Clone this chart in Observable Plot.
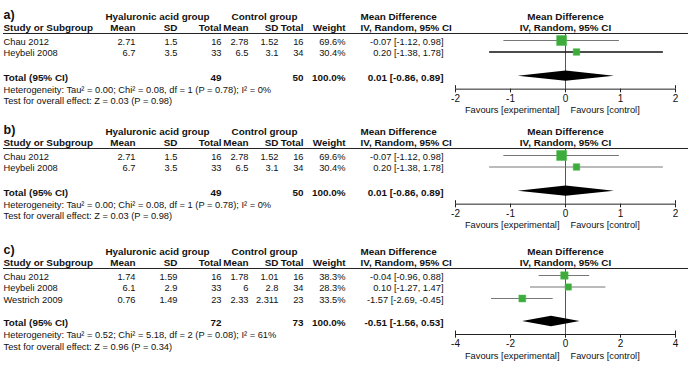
<!DOCTYPE html>
<html><head><meta charset="utf-8">
<script src="https://cdn.jsdelivr.net/npm/d3@7"></script>
<script src="https://cdn.jsdelivr.net/npm/@observablehq/plot@0.6"></script>
<style>
html,body{margin:0;padding:0;background:#fff;}
#chart{width:690px;}
#chart svg{display:block;}
</style></head><body><div id="chart"></div>
<script>
// ---- Panel a ----
const studiesA = ["Chau 2012", "Heybeli 2008"];
const haMeanA = [2.71, 6.7];
const haSdA = [1.5, 3.5];
const haTotalA = [16, 33];
const ctlMeanA = [2.78, 6.5];
const ctlSdA = [1.52, 3.1];
const ctlTotalA = [16, 34];
const weightA = [69.6, 30.4];
const mdA = [-0.07, 0.20];
const loA = [-1.12, -1.38];
const hiA = [0.98, 1.78];
const totalA = [49, 50, 0.01, -0.86, 0.89]; // HA total, control total, MD, lo, hi
const hetA = "Heterogeneity: Tau² = 0.00; Chi² = 0.08, df = 1 (P = 0.78); I² = 0%";
const testA = "Test for overall effect: Z = 0.03 (P = 0.98)";
const ticksA = [-2, -1, 0, 1, 2];

// ---- Panel b ----
const studiesB = ["Chau 2012", "Heybeli 2008"];
const haMeanB = [2.71, 6.7];
const haSdB = [1.5, 3.5];
const haTotalB = [16, 33];
const ctlMeanB = [2.78, 6.5];
const ctlSdB = [1.52, 3.1];
const ctlTotalB = [16, 34];
const weightB = [69.6, 30.4];
const mdB = [-0.07, 0.20];
const loB = [-1.12, -1.38];
const hiB = [0.98, 1.78];
const totalB = [49, 50, 0.01, -0.86, 0.89];
const hetB = "Heterogeneity: Tau² = 0.00; Chi² = 0.08, df = 1 (P = 0.78); I² = 0%";
const testB = "Test for overall effect: Z = 0.03 (P = 0.98)";
const ticksB = [-2, -1, 0, 1, 2];

// ---- Panel c ----
const studiesC = ["Chau 2012", "Heybeli 2008", "Westrich 2009"];
const haMeanC = [1.74, 6.1, 0.76];
const haSdC = [1.59, 2.9, 1.49];
const haTotalC = [16, 33, 23];
const ctlMeanC = [1.78, 6, 2.33];
const ctlSdC = [1.01, 2.8, 2.311];
const ctlTotalC = [16, 34, 23];
const weightC = [38.3, 28.3, 33.5];
const mdC = [-0.04, 0.10, -1.57];
const loC = [-0.96, -1.27, -2.69];
const hiC = [0.88, 1.47, -0.45];
const totalC = [72, 73, -0.51, -1.56, 0.53];
const hetC = "Heterogeneity: Tau² = 0.52; Chi² = 5.18, df = 2 (P = 0.08); I² = 61%";
const testC = "Test for overall effect: Z = 0.96 (P = 0.34)";
const ticksC = [-4, -2, 0, 2, 4];

const GREEN = "#3dac3d";
const FONT = "'Liberation Sans', Arial, Helvetica, sans-serif";
const FS = 9.3;   // regular text
const FSB = 9.9;  // bold text

const fmtMD = (m, l, h) => `${m.toFixed(2)} [${l.toFixed(2)}, ${h.toFixed(2)}]`;

function panel(cfg) {
  const n = cfg.studies.length;
  const rows = cfg.studies.map((s, i) => ({
    i, study: s,
    haMean: String(cfg.haMean[i]), haSd: String(cfg.haSd[i]), haTotal: String(cfg.haTotal[i]),
    ctlMean: String(cfg.ctlMean[i]), ctlSd: String(cfg.ctlSd[i]), ctlTotal: String(cfg.ctlTotal[i]),
    weight: cfg.weight[i], weightTxt: cfg.weight[i].toFixed(1) + "%",
    md: cfg.md[i], lo: cfg.lo[i], hi: cfg.hi[i],
    mdTxt: fmtMD(cfg.md[i], cfg.lo[i], cfg.hi[i]),
    dark: cfg.darkRows.includes(i)
  }));
  const [tHa, tCtl, tMd, tLo, tHi] = cfg.total;
  const tot = n - 1 + cfg.gap;
  const axisRow = tot + 1.0;
  const x0 = cfg.ticks[0], x1 = cfg.ticks[cfg.ticks.length - 1];
  const xc = (x0 + x1) / 2;
  const h1 = -2.2, h2 = -1.22, lineRow = -0.74;

  const T = (data, opts) => Plot.text(data, {fontSize: opts.fontWeight === "bold" ? FSB : FS, fill: "#111", lineAnchor: "middle", ...opts});
  const colText = (data, y, text, dx, anchor, bold) =>
    T(data, {y, text, frameAnchor: "left", dx, textAnchor: anchor, fontWeight: bold ? "bold" : "normal"});
  const one = [0];

  const cols = [
    ["haMean", 135], ["haSd", 177], ["haTotal", 221],
    ["ctlMean", 248], ["ctlSd", 278], ["ctlTotal", 303],
    ["weightTxt", 345], ["mdTxt", 443]
  ];
  const hdr2 = [["Mean", 135], ["SD", 177], ["Total", 221], ["Mean", 248], ["SD", 278], ["Total", 303], ["Weight", 345]];

  const diamond = [
    {x: tLo, y1: tot, y2: tot},
    {x: tMd, y1: tot - 0.45, y2: tot + 0.45},
    {x: tHi, y1: tot, y2: tot}
  ];

  const marks = [
    T(one, {y: () => -2.35, text: () => cfg.label, frameAnchor: "left", dx: 3, textAnchor: "start", fontWeight: "bold", fontSize: 12.5}),
    T(one, {y: () => h1, text: () => "Hyaluronic acid group", frameAnchor: "left", dx: 157, textAnchor: "middle", fontWeight: "bold"}),
    T(one, {y: () => h1, text: () => "Control group", frameAnchor: "left", dx: 264, textAnchor: "middle", fontWeight: "bold"}),
    T(one, {y: () => h1, text: () => "Mean Difference", frameAnchor: "left", dx: 360, textAnchor: "start", fontWeight: "bold"}),
    T(one, {x: () => xc, y: () => h1, text: () => "Mean Difference", textAnchor: "middle", fontWeight: "bold"}),
    T(one, {y: () => h2, text: () => "Study or Subgroup", frameAnchor: "left", dx: 3, textAnchor: "start", fontWeight: "bold"}),
    ...hdr2.map(([t, dx]) => T(one, {y: () => h2, text: () => t, frameAnchor: "left", dx, textAnchor: "end", fontWeight: "bold"})),
    T(one, {y: () => h2, text: () => "IV, Random, 95% CI", frameAnchor: "left", dx: 360, textAnchor: "start", fontWeight: "bold"}),
    T(one, {x: () => xc, y: () => h2, text: () => "IV, Random, 95% CI", textAnchor: "middle", fontWeight: "bold"}),
    Plot.ruleY([lineRow], {y: d => d, stroke: "#222", strokeWidth: 1, insetLeft: 3, insetRight: 2}),
    colText(rows, "i", "study", 3, "start", false),
    ...cols.map(([k, dx]) => colText(rows, "i", k, dx, "end", false)),
    colText(one, () => tot, () => "Total (95% CI)", 3, "start", true),
    colText(one, () => tot, () => String(tHa), 221, "end", true),
    colText(one, () => tot, () => String(tCtl), 303, "end", true),
    colText(one, () => tot, () => "100.0%", 345, "end", true),
    colText(one, () => tot, () => fmtMD(tMd, tLo, tHi), 443, "end", true),
    colText(one, () => tot + 1.07, () => cfg.het, 3, "start", false),
    colText(one, () => tot + 2.06, () => cfg.test, 3, "start", false),
    Plot.ruleX([0], {x: d => d, y1: () => lineRow + 0.08, y2: () => axisRow, stroke: "#555", strokeWidth: 1}),
    Plot.ruleY(rows, {y: "i", x1: "lo", x2: "hi", stroke: d => d.dark ? "#111" : "#777",
      strokeWidth: d => d.dark ? 1.4 : 1, dy: -1.5}),
    Plot.dot(rows, {x: "md", y: "i", r: "weight", symbol: "square", fill: GREEN, stroke: "#4cbb4c", strokeWidth: 0.5, dy: -1.5}),
    Plot.areaY(diamond, {x: "x", y1: "y1", y2: "y2", fill: "#000", dy: -1.5}),
    Plot.ruleY([axisRow], {y: d => d, x1: () => x0, x2: () => x1, stroke: "#222"}),
    Plot.ruleX(cfg.ticks, {x: d => d, y1: () => axisRow, y2: () => axisRow + 0.32, stroke: "#222"}),
    Plot.ruleX([x0, x1], {x: d => d, y1: () => axisRow - 0.3, y2: () => axisRow, stroke: "#222"}),
    T(cfg.ticks, {x: d => d, y: () => axisRow + 0.85, text: d => String(d), fontSize: 10}),
    T(one, {x: () => 0, y: () => axisRow + 1.85, text: () => "Favours [experimental]", textAnchor: "end", dx: -6}),
    T(one, {x: () => 0, y: () => axisRow + 1.85, text: () => "Favours [control]", textAnchor: "start", dx: 5})
  ];

  return Plot.plot({
    width: 690,
    height: cfg.height,
    margin: 0,
    x: {domain: [x0, x1], range: [455, 675], axis: null},
    y: {domain: [0, 1], range: [41.5, 53], axis: null},
    r: {type: "sqrt", domain: [0, 100], range: [0, 6.77]},
    style: {fontFamily: FONT, overflow: "visible", background: "#fff"},
    marks
  });
}

const chart = document.getElementById("chart");
chart.append(panel({
  label: "a)", studies: studiesA, haMean: haMeanA, haSd: haSdA, haTotal: haTotalA,
  ctlMean: ctlMeanA, ctlSd: ctlSdA, ctlTotal: ctlTotalA, weight: weightA,
  md: mdA, lo: loA, hi: hiA, total: totalA, het: hetA, test: testA, ticks: ticksA,
  height: 115, gap: 2.1, darkRows: [1]
}));
chart.append(panel({
  label: "b)", studies: studiesB, haMean: haMeanB, haSd: haSdB, haTotal: haTotalB,
  ctlMean: ctlMeanB, ctlSd: ctlSdB, ctlTotal: ctlTotalB, weight: weightB,
  md: mdB, lo: loB, hi: hiB, total: totalB, het: hetB, test: testB, ticks: ticksB,
  height: 120, gap: 2.1, darkRows: []
}));
chart.append(panel({
  label: "c)", studies: studiesC, haMean: haMeanC, haSd: haSdC, haTotal: haTotalC,
  ctlMean: ctlMeanC, ctlSd: ctlSdC, ctlTotal: ctlTotalC, weight: weightC,
  md: mdC, lo: loC, hi: hiC, total: totalC, het: hetC, test: testC, ticks: ticksC,
  height: 130, gap: 2.0, darkRows: []
}));
</script>
</body></html>
